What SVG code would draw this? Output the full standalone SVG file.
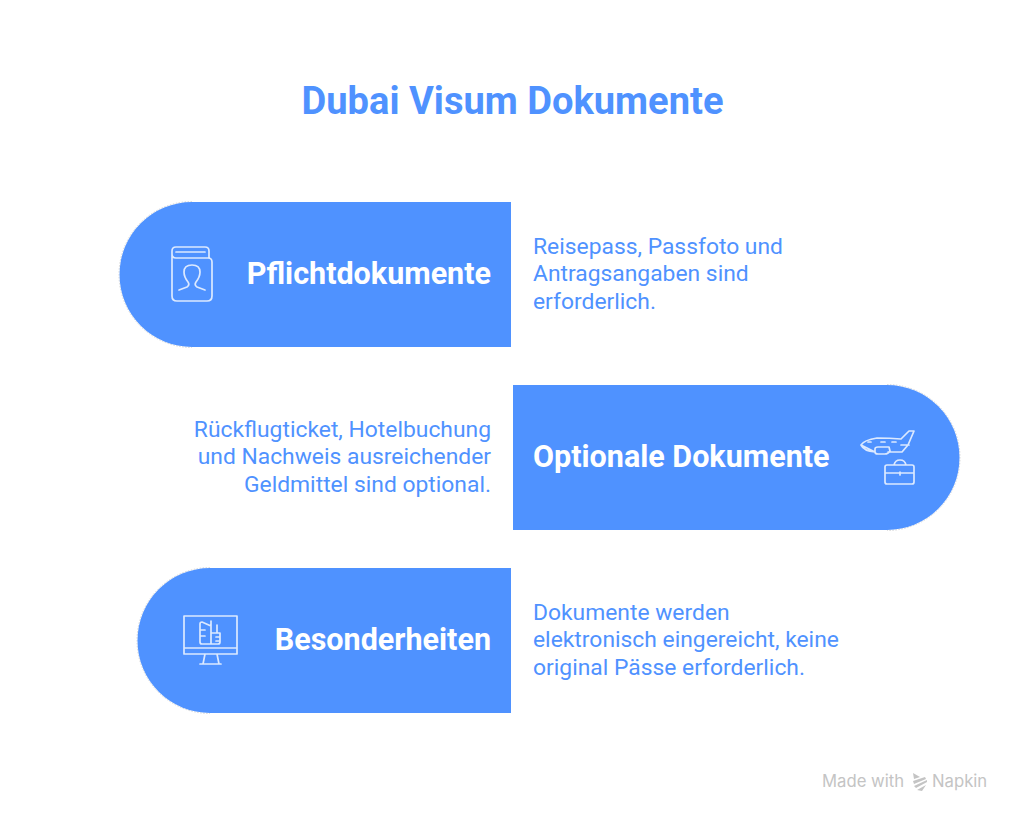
<svg xmlns="http://www.w3.org/2000/svg" width="1024" height="823" viewBox="0 0 1024 823">
<style>
.t{font-family:Roboto,"Liberation Sans",sans-serif}
.h{font-size:30.500px;font-weight:700;fill:#fff}
.b{font-size:22.850px;font-weight:400;fill:#4f92ff}
.i{fill:none;stroke:#fff;stroke-width:1.700;stroke-linecap:round;stroke-linejoin:round;opacity:.8}
.p{fill:#4f92ff}
.e{fill:none;stroke:#d6d6d6;stroke-width:1;stroke-dasharray:1.500 1.500}
.w{font-family:Inter,"Liberation Sans",sans-serif;font-size:16.700px;fill:#c4c4c4}
</style>
<rect width="1024" height="823" fill="#fff"/>
<text class="t" x="512.500" y="113.500" text-anchor="middle" font-size="38.100" font-weight="700" fill="#4f92ff">Dubai Visum Dokumente</text>
<g id="node-pflicht">
<path class="e" d="M192 201.500A73 73 0 0 0 192 347.500"/>
<path class="p" d="M511 202H192A72.500 72.500 0 0 0 192 347H511Z"/>
<path class="i" d="M172 254V296Q172 301 177 301H207Q212 301 212 296V262Q212 258 208 258H176Q172 258 172 254ZM172 254V251Q172 247 176 247H205Q209 247 209 251V258M176 252H205"/>
<path class="i" d="M179 290L187 287Q190 285 188 282Q184 277 184 272Q184 265 192 265Q200 265 200 272Q200 277 196 282Q194 285 197 287L205 290"/>
<text class="t h" x="491" y="284.300" text-anchor="end">Pflichtdokumente</text>
<text class="t b"><tspan x="533" y="254">Reisepass, Passfoto und</tspan><tspan x="533" y="281">Antragsangaben sind</tspan><tspan x="533" y="309">erforderlich.</tspan></text>
</g>
<g id="node-optional">
<path class="e" d="M887 384.500A73 73 0 0 1 887 530.500"/>
<path class="p" d="M513 385H887A72.500 72.500 0 0 1 887 530H513Z"/>
<path class="i" d="M861 445Q864 440 877 438Q890 438 901 439L909 431H914L908 445L902 452H888M875 452Q864 451 861 445ZM875 449Q875 447 878 447H889L890 451Q888 454 885 454H878Q875 454 875 452ZM868 442H871M881 442H885M892 442H896M901 445H909"/>
<path class="i" d="M885 467Q885 465 887 465H912Q914 465 914 467V482Q914 484 912 484H887Q885 484 885 482ZM894 465Q895 460 900 460Q905 460 906 465M885 473H914M900 472V475"/>
<text class="t h" x="533" y="467">Optionale Dokumente</text>
<text class="t b" text-anchor="end"><tspan x="491" y="437">Rückflugticket, Hotelbuchung</tspan><tspan x="491" y="464">und Nachweis ausreichender</tspan><tspan x="491" y="491.600">Geldmittel sind optional.</tspan></text>
</g>
<g id="node-besonder">
<path class="e" d="M210 567.500A73 73 0 0 0 210 713.500"/>
<path class="p" d="M511 568H210A72.500 72.500 0 0 0 210 713H511Z"/>
<path class="i" d="M184 616H237V654H184ZM184 648H237M205 654L203 664M217 654L219 664M200 664H221"/>
<path class="i" d="M200 624Q200 622 202 622L211 626V644H202Q200 644 200 642ZM211 633H220V642Q220 644 218 644H211M217 633V625M211 621V626M200 630H205M200 636H205M216 637H220M216 641H220"/>
<text class="t h" x="491" y="649.500" text-anchor="end">Besonderheiten</text>
<text class="t b"><tspan x="533" y="620">Dokumente werden</tspan><tspan x="533" y="647">elektronisch eingereicht, keine</tspan><tspan x="533" y="675">original Pässe erforderlich.</tspan></text>
</g>
<g id="watermark">
<text class="w" x="822" y="787">Made with</text>
<path d="M913 773L920 777L914 779ZM913 781L925 777L926 779L914 784ZM914 786L927 780L927 782L916 788ZM917 790L926 785L922 791Z" fill="#c4c4c4"/>
<text class="w" x="932" y="787">Napkin</text>
</g>
<g id="connectors"/>
</svg>
